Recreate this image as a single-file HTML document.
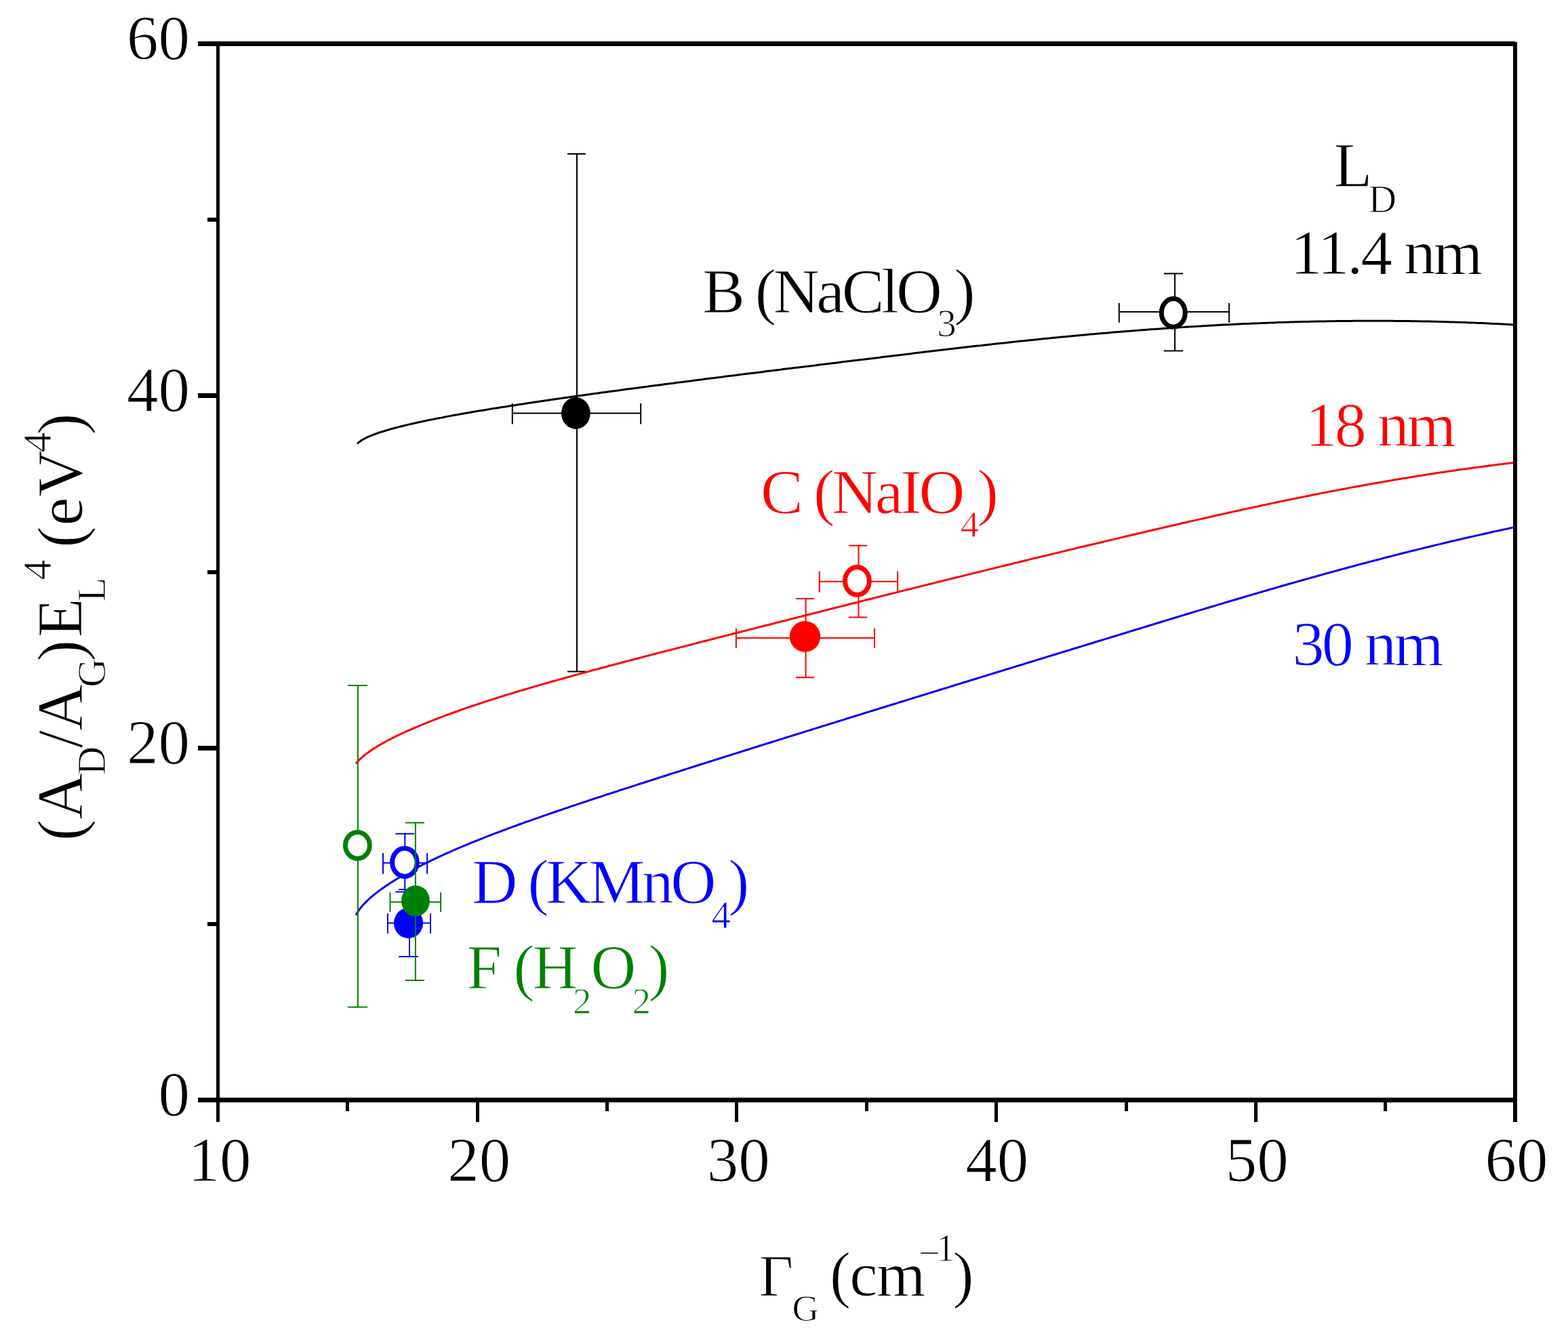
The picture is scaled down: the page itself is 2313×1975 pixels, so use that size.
<!DOCTYPE html>
<html><head><meta charset="utf-8"><title>plot</title>
<style>html,body{margin:0;padding:0;background:#fff;overflow:hidden}svg{display:block}text{stroke:#fff;stroke-width:1px}</style>
</head><body>
<svg width="2313" height="1975" viewBox="0 0 2313 1975" font-family="'Liberation Serif','Times New Roman',serif">
<rect width="2313" height="1975" fill="#fff"/>
<path d="M755.8,609.5 H945.2 M755.8,595 V625.6 M945.2,595 V625.6" stroke="#000" stroke-width="2" fill="none"/><path d="M851,226.9 V990.4 M837,226.9 H864 M837,990.4 H864" stroke="#000" stroke-width="2" fill="none"/><ellipse cx="849.4" cy="609.4" rx="21.4" ry="23.5" fill="#000"/>
<path d="M1650.8,459.9 H1813.1 M1650.8,447 V475.8 M1813.1,447 V475.8" stroke="#000" stroke-width="2" fill="none"/><path d="M1733.1,403.4 V517.5 M1716.9,403.4 H1745.1 M1716.9,517.5 H1745.1" stroke="#000" stroke-width="2" fill="none"/><ellipse cx="1730.8" cy="461.4" rx="17.5" ry="20.8" fill="#fff" stroke="#000" stroke-width="7"/>
<path d="M527.0,654.3 L531.3,650.8 L535.6,648.1 L539.8,645.9 L544.1,643.9 L548.4,642.2 L552.7,640.5 L556.9,639.0 L561.2,637.5 L565.5,636.2 L569.8,634.9 L574.0,633.6 L578.3,632.4 L582.6,631.3 L586.9,630.1 L591.1,629.0 L595.4,628.0 L599.7,626.9 L604.0,625.9 L608.2,625.0 L612.5,624.0 L616.8,623.0 L621.1,622.1 L625.3,621.2 L629.6,620.3 L633.9,619.4 L638.2,618.6 L642.4,617.7 L646.7,616.9 L651.0,616.1 L655.3,615.2 L659.5,614.4 L663.8,613.6 L668.1,612.8 L672.4,612.1 L676.6,611.3 L680.9,610.5 L685.2,609.8 L689.5,609.0 L693.8,608.3 L698.0,607.6 L702.3,606.8 L706.6,606.1 L710.9,605.4 L715.1,604.7 L719.4,604.0 L723.7,603.3 L728.0,602.6 L732.2,601.9 L736.5,601.2 L740.8,600.5 L745.1,599.9 L749.3,599.2 L753.6,598.5 L757.9,597.9 L762.2,597.2 L766.4,596.5 L770.7,595.9 L775.0,595.2 L779.3,594.6 L783.5,594.0 L787.8,593.3 L792.1,592.7 L796.4,592.1 L800.6,591.4 L804.9,590.8 L809.2,590.2 L813.5,589.6 L817.7,588.9 L822.0,588.3 L826.3,587.7 L830.6,587.1 L834.8,586.5 L839.1,585.9 L843.4,585.3 L847.7,584.7 L852.0,584.1 L856.2,583.5 L860.5,582.9 L864.8,582.3 L869.1,581.7 L873.3,581.1 L877.6,580.5 L881.9,579.9 L886.2,579.3 L890.4,578.8 L894.7,578.2 L899.0,577.6 L903.3,577.0 L907.5,576.4 L911.8,575.9 L916.1,575.3 L920.4,574.7 L924.6,574.1 L928.9,573.6 L933.2,573.0 L937.5,572.4 L941.7,571.9 L946.0,571.3 L950.3,570.7 L954.6,570.2 L958.8,569.6 L963.1,569.1 L967.4,568.5 L971.7,567.9 L975.9,567.4 L980.2,566.8 L984.5,566.3 L988.8,565.7 L993.1,565.2 L997.3,564.6 L1001.6,564.0 L1005.9,563.5 L1010.2,562.9 L1014.4,562.4 L1018.7,561.9 L1023.0,561.3 L1027.3,560.8 L1031.5,560.2 L1035.8,559.7 L1040.1,559.1 L1044.4,558.6 L1048.6,558.0 L1052.9,557.5 L1057.2,556.9 L1061.5,556.4 L1065.7,555.9 L1070.0,555.3 L1074.3,554.8 L1078.6,554.3 L1082.8,553.7 L1087.1,553.2 L1091.4,552.6 L1095.7,552.1 L1099.9,551.6 L1104.2,551.0 L1108.5,550.5 L1112.8,550.0 L1117.0,549.4 L1121.3,548.9 L1125.6,548.4 L1129.9,547.8 L1134.1,547.3 L1138.4,546.8 L1142.7,546.2 L1147.0,545.7 L1151.3,545.2 L1155.5,544.6 L1159.8,544.1 L1164.1,543.6 L1168.4,543.1 L1172.6,542.5 L1176.9,542.0 L1181.2,541.5 L1185.5,541.0 L1189.7,540.4 L1194.0,539.9 L1198.3,539.4 L1202.6,538.9 L1206.8,538.3 L1211.1,537.8 L1215.4,537.3 L1219.7,536.8 L1223.9,536.2 L1228.2,535.7 L1232.5,535.2 L1236.8,534.7 L1241.0,534.1 L1245.3,533.6 L1249.6,533.1 L1253.9,532.6 L1258.1,532.0 L1262.4,531.5 L1266.7,531.0 L1271.0,530.5 L1275.2,530.0 L1279.5,529.4 L1283.8,528.9 L1288.1,528.4 L1292.3,527.9 L1296.6,527.4 L1300.9,526.8 L1305.2,526.3 L1309.5,525.8 L1313.7,525.3 L1318.0,524.8 L1322.3,524.2 L1326.6,523.7 L1330.8,523.2 L1335.1,522.7 L1339.4,522.2 L1343.7,521.7 L1347.9,521.1 L1352.2,520.6 L1356.5,520.1 L1360.8,519.6 L1365.0,519.1 L1369.3,518.6 L1373.6,518.1 L1377.9,517.6 L1382.1,517.1 L1386.4,516.6 L1390.7,516.1 L1395.0,515.6 L1399.2,515.1 L1403.5,514.6 L1407.8,514.1 L1412.1,513.6 L1416.3,513.1 L1420.6,512.6 L1424.9,512.1 L1429.2,511.6 L1433.4,511.1 L1437.7,510.6 L1442.0,510.1 L1446.3,509.7 L1450.5,509.2 L1454.8,508.7 L1459.1,508.2 L1463.4,507.8 L1467.7,507.3 L1471.9,506.8 L1476.2,506.3 L1480.5,505.9 L1484.8,505.4 L1489.0,505.0 L1493.3,504.5 L1497.6,504.0 L1501.9,503.6 L1506.1,503.1 L1510.4,502.7 L1514.7,502.2 L1519.0,501.8 L1523.2,501.4 L1527.5,500.9 L1531.8,500.5 L1536.1,500.1 L1540.3,499.6 L1544.6,499.2 L1548.9,498.8 L1553.2,498.3 L1557.4,497.9 L1561.7,497.5 L1566.0,497.1 L1570.3,496.7 L1574.5,496.3 L1578.8,495.9 L1583.1,495.5 L1587.4,495.1 L1591.6,494.7 L1595.9,494.3 L1600.2,493.9 L1604.5,493.5 L1608.7,493.1 L1613.0,492.7 L1617.3,492.3 L1621.6,492.0 L1625.9,491.6 L1630.1,491.2 L1634.4,490.9 L1638.7,490.5 L1643.0,490.1 L1647.2,489.8 L1651.5,489.4 L1655.8,489.1 L1660.1,488.7 L1664.3,488.4 L1668.6,488.1 L1672.9,487.7 L1677.2,487.4 L1681.4,487.1 L1685.7,486.7 L1690.0,486.4 L1694.3,486.1 L1698.5,485.8 L1702.8,485.5 L1707.1,485.2 L1711.4,484.9 L1715.6,484.6 L1719.9,484.3 L1724.2,484.0 L1728.5,483.7 L1732.7,483.4 L1737.0,483.1 L1741.3,482.8 L1745.6,482.6 L1749.8,482.3 L1754.1,482.0 L1758.4,481.7 L1762.7,481.5 L1766.9,481.2 L1771.2,481.0 L1775.5,480.7 L1779.8,480.5 L1784.1,480.2 L1788.3,480.0 L1792.6,479.8 L1796.9,479.5 L1801.2,479.3 L1805.4,479.1 L1809.7,478.9 L1814.0,478.7 L1818.3,478.4 L1822.5,478.2 L1826.8,478.0 L1831.1,477.8 L1835.4,477.6 L1839.6,477.5 L1843.9,477.3 L1848.2,477.1 L1852.5,476.9 L1856.7,476.7 L1861.0,476.6 L1865.3,476.4 L1869.6,476.2 L1873.8,476.1 L1878.1,475.9 L1882.4,475.8 L1886.7,475.6 L1890.9,475.5 L1895.2,475.3 L1899.5,475.2 L1903.8,475.1 L1908.0,475.0 L1912.3,474.8 L1916.6,474.7 L1920.9,474.6 L1925.2,474.5 L1929.4,474.4 L1933.7,474.3 L1938.0,474.2 L1942.3,474.1 L1946.5,474.0 L1950.8,473.9 L1955.1,473.9 L1959.4,473.8 L1963.6,473.7 L1967.9,473.7 L1972.2,473.6 L1976.5,473.5 L1980.7,473.5 L1985.0,473.4 L1989.3,473.4 L1993.6,473.4 L1997.8,473.3 L2002.1,473.3 L2006.4,473.3 L2010.7,473.3 L2014.9,473.2 L2019.2,473.2 L2023.5,473.2 L2027.8,473.2 L2032.0,473.2 L2036.3,473.2 L2040.6,473.3 L2044.9,473.3 L2049.1,473.3 L2053.4,473.3 L2057.7,473.4 L2062.0,473.4 L2066.2,473.4 L2070.5,473.5 L2074.8,473.5 L2079.1,473.6 L2083.4,473.7 L2087.6,473.7 L2091.9,473.8 L2096.2,473.9 L2100.5,474.0 L2104.7,474.0 L2109.0,474.1 L2113.3,474.2 L2117.6,474.3 L2121.8,474.4 L2126.1,474.5 L2130.4,474.7 L2134.7,474.8 L2138.9,474.9 L2143.2,475.0 L2147.5,475.2 L2151.8,475.3 L2156.0,475.5 L2160.3,475.6 L2164.6,475.8 L2168.9,475.9 L2173.1,476.1 L2177.4,476.3 L2181.7,476.4 L2186.0,476.6 L2190.2,476.8 L2194.5,477.0 L2198.8,477.2 L2203.1,477.4 L2207.3,477.6 L2211.6,477.8 L2215.9,478.0 L2220.2,478.3 L2224.4,478.5 L2228.7,478.7 L2233.0,479.0" fill="none" stroke="#000" stroke-width="3" stroke-linejoin="round"/>
<path d="M525.0,1126.6 L529.3,1121.4 L533.6,1117.3 L537.8,1113.7 L542.1,1110.4 L546.4,1107.4 L550.7,1104.6 L555.0,1101.9 L559.2,1099.3 L563.5,1096.9 L567.8,1094.5 L572.1,1092.2 L576.4,1090.0 L580.6,1087.8 L584.9,1085.7 L589.2,1083.7 L593.5,1081.6 L597.8,1079.7 L602.1,1077.7 L606.3,1075.8 L610.6,1074.0 L614.9,1072.1 L619.2,1070.3 L623.5,1068.6 L627.7,1066.8 L632.0,1065.1 L636.3,1063.4 L640.6,1061.7 L644.9,1060.0 L649.1,1058.4 L653.4,1056.8 L657.7,1055.2 L662.0,1053.6 L666.3,1052.0 L670.5,1050.5 L674.8,1049.0 L679.1,1047.4 L683.4,1045.9 L687.7,1044.4 L691.9,1043.0 L696.2,1041.5 L700.5,1040.1 L704.8,1038.6 L709.1,1037.2 L713.4,1035.8 L717.6,1034.4 L721.9,1033.0 L726.2,1031.6 L730.5,1030.3 L734.8,1028.9 L739.0,1027.6 L743.3,1026.3 L747.6,1024.9 L751.9,1023.6 L756.2,1022.3 L760.4,1021.0 L764.7,1019.7 L769.0,1018.4 L773.3,1017.2 L777.6,1015.9 L781.8,1014.6 L786.1,1013.4 L790.4,1012.1 L794.7,1010.9 L799.0,1009.7 L803.2,1008.4 L807.5,1007.2 L811.8,1006.0 L816.1,1004.8 L820.4,1003.6 L824.6,1002.4 L828.9,1001.2 L833.2,1000.0 L837.5,998.8 L841.8,997.6 L846.1,996.4 L850.3,995.3 L854.6,994.1 L858.9,992.9 L863.2,991.7 L867.5,990.6 L871.7,989.4 L876.0,988.3 L880.3,987.1 L884.6,986.0 L888.9,984.8 L893.1,983.7 L897.4,982.5 L901.7,981.4 L906.0,980.2 L910.3,979.1 L914.5,978.0 L918.8,976.8 L923.1,975.7 L927.4,974.6 L931.7,973.5 L935.9,972.3 L940.2,971.2 L944.5,970.1 L948.8,969.0 L953.1,967.9 L957.4,966.7 L961.6,965.6 L965.9,964.5 L970.2,963.4 L974.5,962.3 L978.8,961.2 L983.0,960.1 L987.3,959.0 L991.6,957.9 L995.9,956.8 L1000.2,955.7 L1004.4,954.6 L1008.7,953.5 L1013.0,952.4 L1017.3,951.3 L1021.6,950.2 L1025.8,949.1 L1030.1,948.0 L1034.4,946.9 L1038.7,945.8 L1043.0,944.7 L1047.2,943.6 L1051.5,942.5 L1055.8,941.4 L1060.1,940.3 L1064.4,939.2 L1068.6,938.1 L1072.9,937.0 L1077.2,935.9 L1081.5,934.8 L1085.8,933.8 L1090.1,932.7 L1094.3,931.6 L1098.6,930.5 L1102.9,929.4 L1107.2,928.3 L1111.5,927.2 L1115.7,926.1 L1120.0,925.0 L1124.3,923.9 L1128.6,922.8 L1132.9,921.8 L1137.1,920.7 L1141.4,919.6 L1145.7,918.5 L1150.0,917.4 L1154.3,916.3 L1158.5,915.2 L1162.8,914.1 L1167.1,913.0 L1171.4,911.9 L1175.7,910.9 L1179.9,909.8 L1184.2,908.7 L1188.5,907.6 L1192.8,906.5 L1197.1,905.4 L1201.4,904.3 L1205.6,903.2 L1209.9,902.2 L1214.2,901.1 L1218.5,900.0 L1222.8,898.9 L1227.0,897.8 L1231.3,896.7 L1235.6,895.6 L1239.9,894.6 L1244.2,893.5 L1248.4,892.4 L1252.7,891.3 L1257.0,890.2 L1261.3,889.2 L1265.6,888.1 L1269.8,887.0 L1274.1,885.9 L1278.4,884.8 L1282.7,883.8 L1287.0,882.7 L1291.2,881.6 L1295.5,880.5 L1299.8,879.4 L1304.1,878.4 L1308.4,877.3 L1312.6,876.2 L1316.9,875.1 L1321.2,874.1 L1325.5,873.0 L1329.8,871.9 L1334.1,870.9 L1338.3,869.8 L1342.6,868.7 L1346.9,867.6 L1351.2,866.6 L1355.5,865.5 L1359.7,864.4 L1364.0,863.4 L1368.3,862.3 L1372.6,861.2 L1376.9,860.2 L1381.1,859.1 L1385.4,858.0 L1389.7,857.0 L1394.0,855.9 L1398.3,854.9 L1402.5,853.8 L1406.8,852.7 L1411.1,851.7 L1415.4,850.6 L1419.7,849.6 L1423.9,848.5 L1428.2,847.4 L1432.5,846.4 L1436.8,845.3 L1441.1,844.3 L1445.4,843.2 L1449.6,842.2 L1453.9,841.1 L1458.2,840.1 L1462.5,839.0 L1466.8,838.0 L1471.0,836.9 L1475.3,835.9 L1479.6,834.8 L1483.9,833.8 L1488.2,832.7 L1492.4,831.7 L1496.7,830.6 L1501.0,829.6 L1505.3,828.5 L1509.6,827.5 L1513.8,826.5 L1518.1,825.4 L1522.4,824.4 L1526.7,823.3 L1531.0,822.3 L1535.2,821.3 L1539.5,820.2 L1543.8,819.2 L1548.1,818.2 L1552.4,817.1 L1556.6,816.1 L1560.9,815.1 L1565.2,814.0 L1569.5,813.0 L1573.8,812.0 L1578.1,810.9 L1582.3,809.9 L1586.6,808.9 L1590.9,807.8 L1595.2,806.8 L1599.5,805.8 L1603.7,804.8 L1608.0,803.8 L1612.3,802.7 L1616.6,801.7 L1620.9,800.7 L1625.1,799.7 L1629.4,798.6 L1633.7,797.6 L1638.0,796.6 L1642.3,795.6 L1646.5,794.6 L1650.8,793.6 L1655.1,792.6 L1659.4,791.5 L1663.7,790.5 L1667.9,789.5 L1672.2,788.5 L1676.5,787.5 L1680.8,786.5 L1685.1,785.5 L1689.4,784.5 L1693.6,783.5 L1697.9,782.5 L1702.2,781.5 L1706.5,780.5 L1710.8,779.5 L1715.0,778.5 L1719.3,777.5 L1723.6,776.5 L1727.9,775.5 L1732.2,774.5 L1736.4,773.5 L1740.7,772.5 L1745.0,771.5 L1749.3,770.5 L1753.6,769.5 L1757.8,768.6 L1762.1,767.6 L1766.4,766.6 L1770.7,765.6 L1775.0,764.7 L1779.2,763.7 L1783.5,762.7 L1787.8,761.8 L1792.1,760.8 L1796.4,759.8 L1800.6,758.9 L1804.9,757.9 L1809.2,757.0 L1813.5,756.0 L1817.8,755.1 L1822.1,754.1 L1826.3,753.2 L1830.6,752.2 L1834.9,751.3 L1839.2,750.4 L1843.5,749.4 L1847.7,748.5 L1852.0,747.6 L1856.3,746.7 L1860.6,745.8 L1864.9,744.8 L1869.1,743.9 L1873.4,743.0 L1877.7,742.1 L1882.0,741.2 L1886.3,740.3 L1890.5,739.4 L1894.8,738.5 L1899.1,737.6 L1903.4,736.8 L1907.7,735.9 L1911.9,735.0 L1916.2,734.1 L1920.5,733.3 L1924.8,732.4 L1929.1,731.5 L1933.4,730.7 L1937.6,729.8 L1941.9,729.0 L1946.2,728.1 L1950.5,727.3 L1954.8,726.5 L1959.0,725.6 L1963.3,724.8 L1967.6,724.0 L1971.9,723.2 L1976.2,722.4 L1980.4,721.5 L1984.7,720.7 L1989.0,719.9 L1993.3,719.1 L1997.6,718.3 L2001.8,717.6 L2006.1,716.8 L2010.4,716.0 L2014.7,715.2 L2019.0,714.5 L2023.2,713.7 L2027.5,712.9 L2031.8,712.2 L2036.1,711.4 L2040.4,710.7 L2044.6,709.9 L2048.9,709.2 L2053.2,708.5 L2057.5,707.7 L2061.8,707.0 L2066.1,706.3 L2070.3,705.6 L2074.6,704.9 L2078.9,704.2 L2083.2,703.5 L2087.5,702.8 L2091.7,702.1 L2096.0,701.4 L2100.3,700.8 L2104.6,700.1 L2108.9,699.4 L2113.1,698.8 L2117.4,698.1 L2121.7,697.5 L2126.0,696.8 L2130.3,696.2 L2134.5,695.5 L2138.8,694.9 L2143.1,694.3 L2147.4,693.7 L2151.7,693.1 L2155.9,692.5 L2160.2,691.9 L2164.5,691.3 L2168.8,690.7 L2173.1,690.1 L2177.4,689.5 L2181.6,688.9 L2185.9,688.4 L2190.2,687.8 L2194.5,687.3 L2198.8,686.7 L2203.0,686.2 L2207.3,685.6 L2211.6,685.1 L2215.9,684.6 L2220.2,684.0 L2224.4,683.5 L2228.7,683.0 L2233.0,682.5" fill="none" stroke="#ff0000" stroke-width="3" stroke-linejoin="round"/>
<path d="M525.0,1349.6 L529.3,1342.6 L533.6,1337.1 L537.8,1332.4 L542.1,1328.1 L546.4,1324.2 L550.7,1320.6 L555.0,1317.1 L559.2,1313.9 L563.5,1310.7 L567.8,1307.7 L572.1,1304.9 L576.4,1302.1 L580.6,1299.4 L584.9,1296.7 L589.2,1294.2 L593.5,1291.6 L597.8,1289.2 L602.1,1286.8 L606.3,1284.5 L610.6,1282.2 L614.9,1279.9 L619.2,1277.7 L623.5,1275.5 L627.7,1273.4 L632.0,1271.3 L636.3,1269.2 L640.6,1267.1 L644.9,1265.1 L649.1,1263.1 L653.4,1261.2 L657.7,1259.2 L662.0,1257.3 L666.3,1255.4 L670.5,1253.5 L674.8,1251.7 L679.1,1249.9 L683.4,1248.0 L687.7,1246.3 L691.9,1244.5 L696.2,1242.7 L700.5,1241.0 L704.8,1239.3 L709.1,1237.6 L713.4,1235.9 L717.6,1234.2 L721.9,1232.5 L726.2,1230.9 L730.5,1229.2 L734.8,1227.6 L739.0,1226.0 L743.3,1224.4 L747.6,1222.8 L751.9,1221.2 L756.2,1219.7 L760.4,1218.1 L764.7,1216.5 L769.0,1215.0 L773.3,1213.4 L777.6,1211.9 L781.8,1210.4 L786.1,1208.9 L790.4,1207.4 L794.7,1205.9 L799.0,1204.4 L803.2,1202.9 L807.5,1201.4 L811.8,1199.9 L816.1,1198.5 L820.4,1197.0 L824.6,1195.5 L828.9,1194.1 L833.2,1192.6 L837.5,1191.2 L841.8,1189.7 L846.1,1188.3 L850.3,1186.9 L854.6,1185.4 L858.9,1184.0 L863.2,1182.6 L867.5,1181.2 L871.7,1179.7 L876.0,1178.3 L880.3,1176.9 L884.6,1175.5 L888.9,1174.1 L893.1,1172.7 L897.4,1171.3 L901.7,1169.9 L906.0,1168.5 L910.3,1167.1 L914.5,1165.7 L918.8,1164.3 L923.1,1162.9 L927.4,1161.6 L931.7,1160.2 L935.9,1158.8 L940.2,1157.4 L944.5,1156.0 L948.8,1154.7 L953.1,1153.3 L957.4,1151.9 L961.6,1150.5 L965.9,1149.2 L970.2,1147.8 L974.5,1146.4 L978.8,1145.0 L983.0,1143.7 L987.3,1142.3 L991.6,1140.9 L995.9,1139.6 L1000.2,1138.2 L1004.4,1136.8 L1008.7,1135.5 L1013.0,1134.1 L1017.3,1132.8 L1021.6,1131.4 L1025.8,1130.0 L1030.1,1128.7 L1034.4,1127.3 L1038.7,1126.0 L1043.0,1124.6 L1047.2,1123.3 L1051.5,1121.9 L1055.8,1120.5 L1060.1,1119.2 L1064.4,1117.8 L1068.6,1116.5 L1072.9,1115.1 L1077.2,1113.8 L1081.5,1112.4 L1085.8,1111.1 L1090.1,1109.7 L1094.3,1108.4 L1098.6,1107.0 L1102.9,1105.7 L1107.2,1104.4 L1111.5,1103.0 L1115.7,1101.7 L1120.0,1100.3 L1124.3,1099.0 L1128.6,1097.6 L1132.9,1096.3 L1137.1,1095.0 L1141.4,1093.6 L1145.7,1092.3 L1150.0,1090.9 L1154.3,1089.6 L1158.5,1088.2 L1162.8,1086.9 L1167.1,1085.6 L1171.4,1084.2 L1175.7,1082.9 L1179.9,1081.6 L1184.2,1080.2 L1188.5,1078.9 L1192.8,1077.6 L1197.1,1076.2 L1201.4,1074.9 L1205.6,1073.6 L1209.9,1072.2 L1214.2,1070.9 L1218.5,1069.6 L1222.8,1068.2 L1227.0,1066.9 L1231.3,1065.6 L1235.6,1064.2 L1239.9,1062.9 L1244.2,1061.6 L1248.4,1060.2 L1252.7,1058.9 L1257.0,1057.6 L1261.3,1056.2 L1265.6,1054.9 L1269.8,1053.6 L1274.1,1052.3 L1278.4,1050.9 L1282.7,1049.6 L1287.0,1048.3 L1291.2,1047.0 L1295.5,1045.6 L1299.8,1044.3 L1304.1,1043.0 L1308.4,1041.7 L1312.6,1040.3 L1316.9,1039.0 L1321.2,1037.7 L1325.5,1036.4 L1329.8,1035.0 L1334.1,1033.7 L1338.3,1032.4 L1342.6,1031.1 L1346.9,1029.7 L1351.2,1028.4 L1355.5,1027.1 L1359.7,1025.8 L1364.0,1024.5 L1368.3,1023.1 L1372.6,1021.8 L1376.9,1020.5 L1381.1,1019.2 L1385.4,1017.8 L1389.7,1016.5 L1394.0,1015.2 L1398.3,1013.9 L1402.5,1012.6 L1406.8,1011.3 L1411.1,1009.9 L1415.4,1008.6 L1419.7,1007.3 L1423.9,1006.0 L1428.2,1004.7 L1432.5,1003.3 L1436.8,1002.0 L1441.1,1000.7 L1445.4,999.4 L1449.6,998.1 L1453.9,996.8 L1458.2,995.4 L1462.5,994.1 L1466.8,992.8 L1471.0,991.5 L1475.3,990.2 L1479.6,988.9 L1483.9,987.5 L1488.2,986.2 L1492.4,984.9 L1496.7,983.6 L1501.0,982.3 L1505.3,981.0 L1509.6,979.7 L1513.8,978.3 L1518.1,977.0 L1522.4,975.7 L1526.7,974.4 L1531.0,973.1 L1535.2,971.8 L1539.5,970.5 L1543.8,969.1 L1548.1,967.8 L1552.4,966.5 L1556.6,965.2 L1560.9,963.9 L1565.2,962.6 L1569.5,961.3 L1573.8,960.0 L1578.1,958.6 L1582.3,957.3 L1586.6,956.0 L1590.9,954.7 L1595.2,953.4 L1599.5,952.1 L1603.7,950.8 L1608.0,949.5 L1612.3,948.2 L1616.6,946.8 L1620.9,945.5 L1625.1,944.2 L1629.4,942.9 L1633.7,941.6 L1638.0,940.3 L1642.3,939.0 L1646.5,937.7 L1650.8,936.4 L1655.1,935.0 L1659.4,933.7 L1663.7,932.4 L1667.9,931.1 L1672.2,929.8 L1676.5,928.5 L1680.8,927.2 L1685.1,925.9 L1689.4,924.6 L1693.6,923.3 L1697.9,922.0 L1702.2,920.6 L1706.5,919.3 L1710.8,918.0 L1715.0,916.7 L1719.3,915.4 L1723.6,914.1 L1727.9,912.8 L1732.2,911.5 L1736.4,910.2 L1740.7,908.9 L1745.0,907.6 L1749.3,906.3 L1753.6,905.0 L1757.8,903.7 L1762.1,902.4 L1766.4,901.1 L1770.7,899.9 L1775.0,898.6 L1779.2,897.3 L1783.5,896.0 L1787.8,894.7 L1792.1,893.4 L1796.4,892.1 L1800.6,890.9 L1804.9,889.6 L1809.2,888.3 L1813.5,887.0 L1817.8,885.8 L1822.1,884.5 L1826.3,883.2 L1830.6,882.0 L1834.9,880.7 L1839.2,879.4 L1843.5,878.2 L1847.7,876.9 L1852.0,875.7 L1856.3,874.4 L1860.6,873.2 L1864.9,871.9 L1869.1,870.7 L1873.4,869.4 L1877.7,868.2 L1882.0,867.0 L1886.3,865.7 L1890.5,864.5 L1894.8,863.3 L1899.1,862.0 L1903.4,860.8 L1907.7,859.6 L1911.9,858.4 L1916.2,857.2 L1920.5,856.0 L1924.8,854.8 L1929.1,853.6 L1933.4,852.3 L1937.6,851.2 L1941.9,850.0 L1946.2,848.8 L1950.5,847.6 L1954.8,846.4 L1959.0,845.2 L1963.3,844.0 L1967.6,842.9 L1971.9,841.7 L1976.2,840.5 L1980.4,839.4 L1984.7,838.2 L1989.0,837.0 L1993.3,835.9 L1997.6,834.7 L2001.8,833.6 L2006.1,832.4 L2010.4,831.3 L2014.7,830.2 L2019.0,829.0 L2023.2,827.9 L2027.5,826.8 L2031.8,825.7 L2036.1,824.6 L2040.4,823.4 L2044.6,822.3 L2048.9,821.2 L2053.2,820.1 L2057.5,819.0 L2061.8,817.9 L2066.1,816.8 L2070.3,815.8 L2074.6,814.7 L2078.9,813.6 L2083.2,812.5 L2087.5,811.5 L2091.7,810.4 L2096.0,809.4 L2100.3,808.3 L2104.6,807.2 L2108.9,806.2 L2113.1,805.2 L2117.4,804.1 L2121.7,803.1 L2126.0,802.1 L2130.3,801.0 L2134.5,800.0 L2138.8,799.0 L2143.1,798.0 L2147.4,797.0 L2151.7,796.0 L2155.9,795.0 L2160.2,794.0 L2164.5,793.0 L2168.8,792.0 L2173.1,791.1 L2177.4,790.1 L2181.6,789.1 L2185.9,788.2 L2190.2,787.2 L2194.5,786.2 L2198.8,785.3 L2203.0,784.3 L2207.3,783.4 L2211.6,782.5 L2215.9,781.5 L2220.2,780.6 L2224.4,779.7 L2228.7,778.8 L2233.0,777.9" fill="none" stroke="#0000ff" stroke-width="3" stroke-linejoin="round"/>
<path d="M1208.8,857.8 H1324.1 M1208.8,842.8 V873.7 M1324.1,842.8 V873.7" stroke="#ff0000" stroke-width="2" fill="none"/><path d="M1266.5,804.7 V910.5 M1252,804.7 H1279.2 M1252,910.5 H1279.2" stroke="#ff0000" stroke-width="2" fill="none"/><ellipse cx="1264.4" cy="856.9" rx="17.9" ry="20.4" fill="#fff" stroke="#ff0000" stroke-width="7"/>
<path d="M1085.9,940.9 H1290 M1085.9,926.8 V955.8 M1290,926.8 V955.8" stroke="#ff0000" stroke-width="2" fill="none"/><path d="M1188.6,882.9 V999.2 M1174,882.9 H1201 M1174,999.2 H1201" stroke="#ff0000" stroke-width="2" fill="none"/><ellipse cx="1187.5" cy="938.9" rx="22.7" ry="22.9" fill="#ff0000"/>
<path d="M565,1272.7 H630.1 M565,1258.2 V1288.9 M630.1,1258.2 V1288.9" stroke="#0000ff" stroke-width="2" fill="none"/><path d="M597.3,1229.8 V1315.6 M583.3,1229.8 H611.3 M583.3,1315.6 H611.3" stroke="#0000ff" stroke-width="2" fill="none"/><ellipse cx="596.9" cy="1272" rx="18.3" ry="20.7" fill="#fff" stroke="#0000ff" stroke-width="7"/>
<path d="M571.9,1361.5 H635 M571.9,1347.2 V1376.9 M635,1347.2 V1376.9" stroke="#0000ff" stroke-width="2" fill="none"/><path d="M604,1312 V1411 M588.2,1312 H616.9 M588.2,1411 H616.9" stroke="#0000ff" stroke-width="2" fill="none"/><ellipse cx="602.5" cy="1361.5" rx="21.6" ry="22.5" fill="#0000ff"/>
<path d="M527.9,1011.1 V1485.4 M513,1011.1 H542 M513,1485.4 H542" stroke="#008000" stroke-width="2" fill="none"/><ellipse cx="527.4" cy="1246.9" rx="17.9" ry="19.5" fill="#fff" stroke="#008000" stroke-width="7"/>
<path d="M575.5,1330.5 H650.1 M575.5,1316.2 V1344.9 M650.1,1316.2 V1344.9" stroke="#008000" stroke-width="2" fill="none"/><path d="M612.9,1213.4 V1446 M598.1,1213.4 H625.9 M598.1,1446 H625.9" stroke="#008000" stroke-width="2" fill="none"/><ellipse cx="613" cy="1328.8" rx="21" ry="22.9" fill="#008000"/>
<g fill="#000" shape-rendering="crispEdges">
<rect x="319" y="61" width="5" height="1594"/>
<rect x="2232" y="62" width="6" height="1593"/>
<rect x="292" y="61" width="1943" height="7"/>
<rect x="292" y="1619" width="1946" height="7"/>
<rect x="292" y="1099.7" width="28" height="7"/>
<rect x="292" y="580.3" width="28" height="7"/>
<rect x="306" y="1359.8" width="14" height="6"/>
<rect x="306" y="840.5" width="14" height="6"/>
<rect x="306" y="321.2" width="14" height="6"/>
<rect x="701.7" y="1626" width="5" height="29"/>
<rect x="1084.4" y="1626" width="5" height="29"/>
<rect x="1467.1" y="1626" width="5" height="29"/>
<rect x="1849.8" y="1626" width="5" height="29"/>
<rect x="510.4" y="1626" width="5" height="13"/>
<rect x="893.1" y="1626" width="5" height="13"/>
<rect x="1275.8" y="1626" width="5" height="13"/>
<rect x="1658.5" y="1626" width="5" height="13"/>
<rect x="2041.2" y="1626" width="5" height="13"/>
</g>
<text x="280" y="86.7" font-size="93" text-anchor="end">60</text>
<text x="280" y="606" font-size="93" text-anchor="end">40</text>
<text x="280" y="1126" font-size="93" text-anchor="end">20</text>
<text x="280" y="1644.8" font-size="93" text-anchor="end">0</text>
<text x="324.1" y="1742.3" font-size="93" text-anchor="middle">10</text>
<text x="706.8" y="1742.3" font-size="93" text-anchor="middle">20</text>
<text x="1089.2" y="1742.3" font-size="93" text-anchor="middle">30</text>
<text x="1470.7" y="1742.3" font-size="93" text-anchor="middle">40</text>
<text x="1854.2" y="1742.3" font-size="93" text-anchor="middle">50</text>
<text x="2236.9" y="1742.3" font-size="93" text-anchor="middle">60</text>
<text x="1967.5" y="275.0" font-size="93" fill="#000">L</text>
<text x="2018.6" y="312.5" font-size="57.5" fill="#000">D</text>
<text x="1903.4" y="403.7" font-size="93.5" fill="#000" textLength="283.9" lengthAdjust="spacing">11.4 nm</text>
<text x="1036.3" y="460.7" font-size="94" fill="#000" textLength="353.5" lengthAdjust="spacing">B (NaClO</text>
<text x="1382.3" y="496.0" font-size="57" fill="#000">3</text>
<text x="1407.3" y="460.7" font-size="94" fill="#000">)</text>
<text x="1925.5" y="657.7" font-size="94" fill="#ff0000" textLength="222.5" lengthAdjust="spacing">18 nm</text>
<text x="1122.1" y="757.2" font-size="94" fill="#ff0000" textLength="301.2" lengthAdjust="spacing">C (NaIO</text>
<text x="1416.7" y="791.6" font-size="55" fill="#ff0000">4</text>
<text x="1441.5" y="757.2" font-size="94" fill="#ff0000">)</text>
<text x="1906.5" y="980.8" font-size="94" fill="#0000ff" textLength="223.0" lengthAdjust="spacing">30 nm</text>
<text x="696.3" y="1332.2" font-size="93" fill="#0000ff" textLength="360.2" lengthAdjust="spacing">D (KMnO</text>
<text x="1049.5" y="1368.7" font-size="57" fill="#0000ff">4</text>
<text x="1074.3" y="1332.2" font-size="93" fill="#0000ff">)</text>
<text x="688.5" y="1458.4" font-size="92.5" fill="#008000" textLength="163.7" lengthAdjust="spacing">F (H</text>
<text x="845.0" y="1494.5" font-size="55" fill="#008000">2</text>
<text x="871.4" y="1458.4" font-size="92.5" fill="#008000">O</text>
<text x="932.5" y="1494.5" font-size="55" fill="#008000">2</text>
<text x="956.4" y="1458.4" font-size="92.5" fill="#008000">)</text>
<text x="1119.7" y="1910.6" font-size="87" fill="#000">Γ</text>
<text x="1168.5" y="1947.5" font-size="55" fill="#000">G</text>
<text x="1223.9" y="1910.6" font-size="93" fill="#000" textLength="141.5" lengthAdjust="spacing">(cm</text>
<text x="1355.0" y="1866.5" font-size="56.5" fill="#000">−</text>
<text x="1380.8" y="1860.3" font-size="56.5" fill="#000">1</text>
<text x="1405.6" y="1910.6" font-size="93" fill="#000">)</text>
<g transform="translate(121,1236) rotate(-90)">
<text x="-4.2" y="0.0" font-size="95" fill="#000" textLength="100.1" lengthAdjust="spacing">(A</text>
<text x="92.6" y="34.0" font-size="59" fill="#000">D</text>
<text x="132.4" y="0.0" font-size="95" fill="#000" textLength="94.3" lengthAdjust="spacing">/A</text>
<text x="222.3" y="34.0" font-size="59" fill="#000">G</text>
<text x="260.6" y="0.0" font-size="95" fill="#000" textLength="93.1" lengthAdjust="spacing">)E</text>
<text x="348.2" y="34.0" font-size="59" fill="#000">L</text>
<text x="380.4" y="-46.0" font-size="60" fill="#000">4</text>
<text x="428.2" y="0.0" font-size="95" fill="#000" textLength="143.8" lengthAdjust="spacing">(eV</text>
<text x="568.5" y="-46.0" font-size="60" fill="#000">4</text>
<text x="594.8" y="0.0" font-size="95" fill="#000">)</text>
</g>
</svg>
</body></html>
